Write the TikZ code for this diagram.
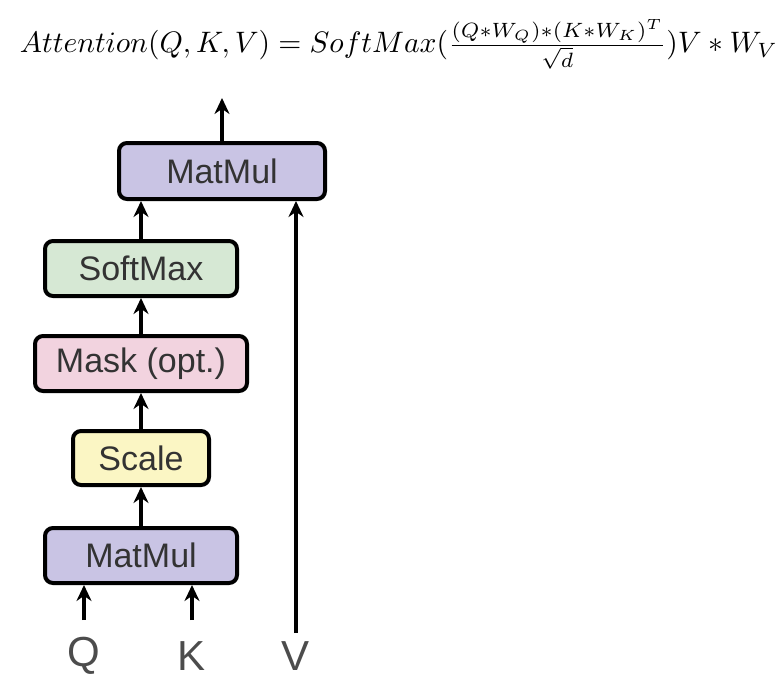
\documentclass[tikz,border=0pt]{standalone}
\usepackage{fontspec}
\usepackage{graphicx}
\newfontfamily\lsans{Liberation Sans}
\usetikzlibrary{arrows.meta}
\definecolor{cmat}{HTML}{C9C4E4}
\definecolor{csoft}{HTML}{D6E8D4}
\definecolor{cmask}{HTML}{F2D3DF}
\definecolor{cscale}{HTML}{FBF6C4}
\begin{document}
\begin{tikzpicture}[x=1pt,y=-1pt,
  box/.style={draw=black,line width=4pt,rounded corners=8pt,inner sep=0pt,
    font=\lsans\fontsize{34}{38}\selectfont,text=black!80},
  arr/.style={line width=4pt,-{Stealth[length=16pt,width=15pt]}},
  lab/.style={font=\lsans\fontsize{42}{44}\selectfont,text=black!70,inner sep=0pt}]
\useasboundingbox (0,0) rectangle (781,683);
\node[inner sep=0pt] (f) at (399,44) {\resizebox{758pt}{!}{$Attention(Q,K,V)=SoftMax(\frac{(Q*W_Q)*(K*W_K)^T}{\sqrt{d}})V*W_V$}};
\node[box,fill=cmat,minimum width=206pt,minimum height=56pt] (m2) at (222,171) {MatMul};
\node[box,fill=csoft,minimum width=192pt,minimum height=55pt] (sm) at (141,268.5) {SoftMax};
\node[box,fill=cmask,minimum width=212pt,minimum height=55pt] (mk) at (141,363.5) {Mask (opt.)};
\node[box,fill=cscale,minimum width=136pt,minimum height=54pt] (sc) at (141,458) {Scale};
\node[box,fill=cmat,minimum width=192pt,minimum height=55pt] (m1) at (141,555.5) {MatMul};
\node[lab] (q) at (84,656) {Q};
\node[lab] (k) at (192,656) {K};
\node[lab] (v) at (296,656) {V};
\coordinate (out) at (222,98);
\coordinate (qs) at (84,620);
\coordinate (ks) at (192,620);
\coordinate (vs) at (296,633);
\draw[arr] (m2.north) -- (out);
\draw[arr] (sm.north) -- (sm.north |- m2.south);
\draw[arr] (mk.north) -- (sm.south);
\draw[arr] (sc.north) -- (mk.south);
\draw[arr] (m1.north) -- (sc.south);
\draw[arr] (qs) -- (qs |- m1.south);
\draw[arr] (ks) -- (ks |- m1.south);
\draw[arr] (vs) -- (vs |- m2.south);
\end{tikzpicture}
\end{document}
